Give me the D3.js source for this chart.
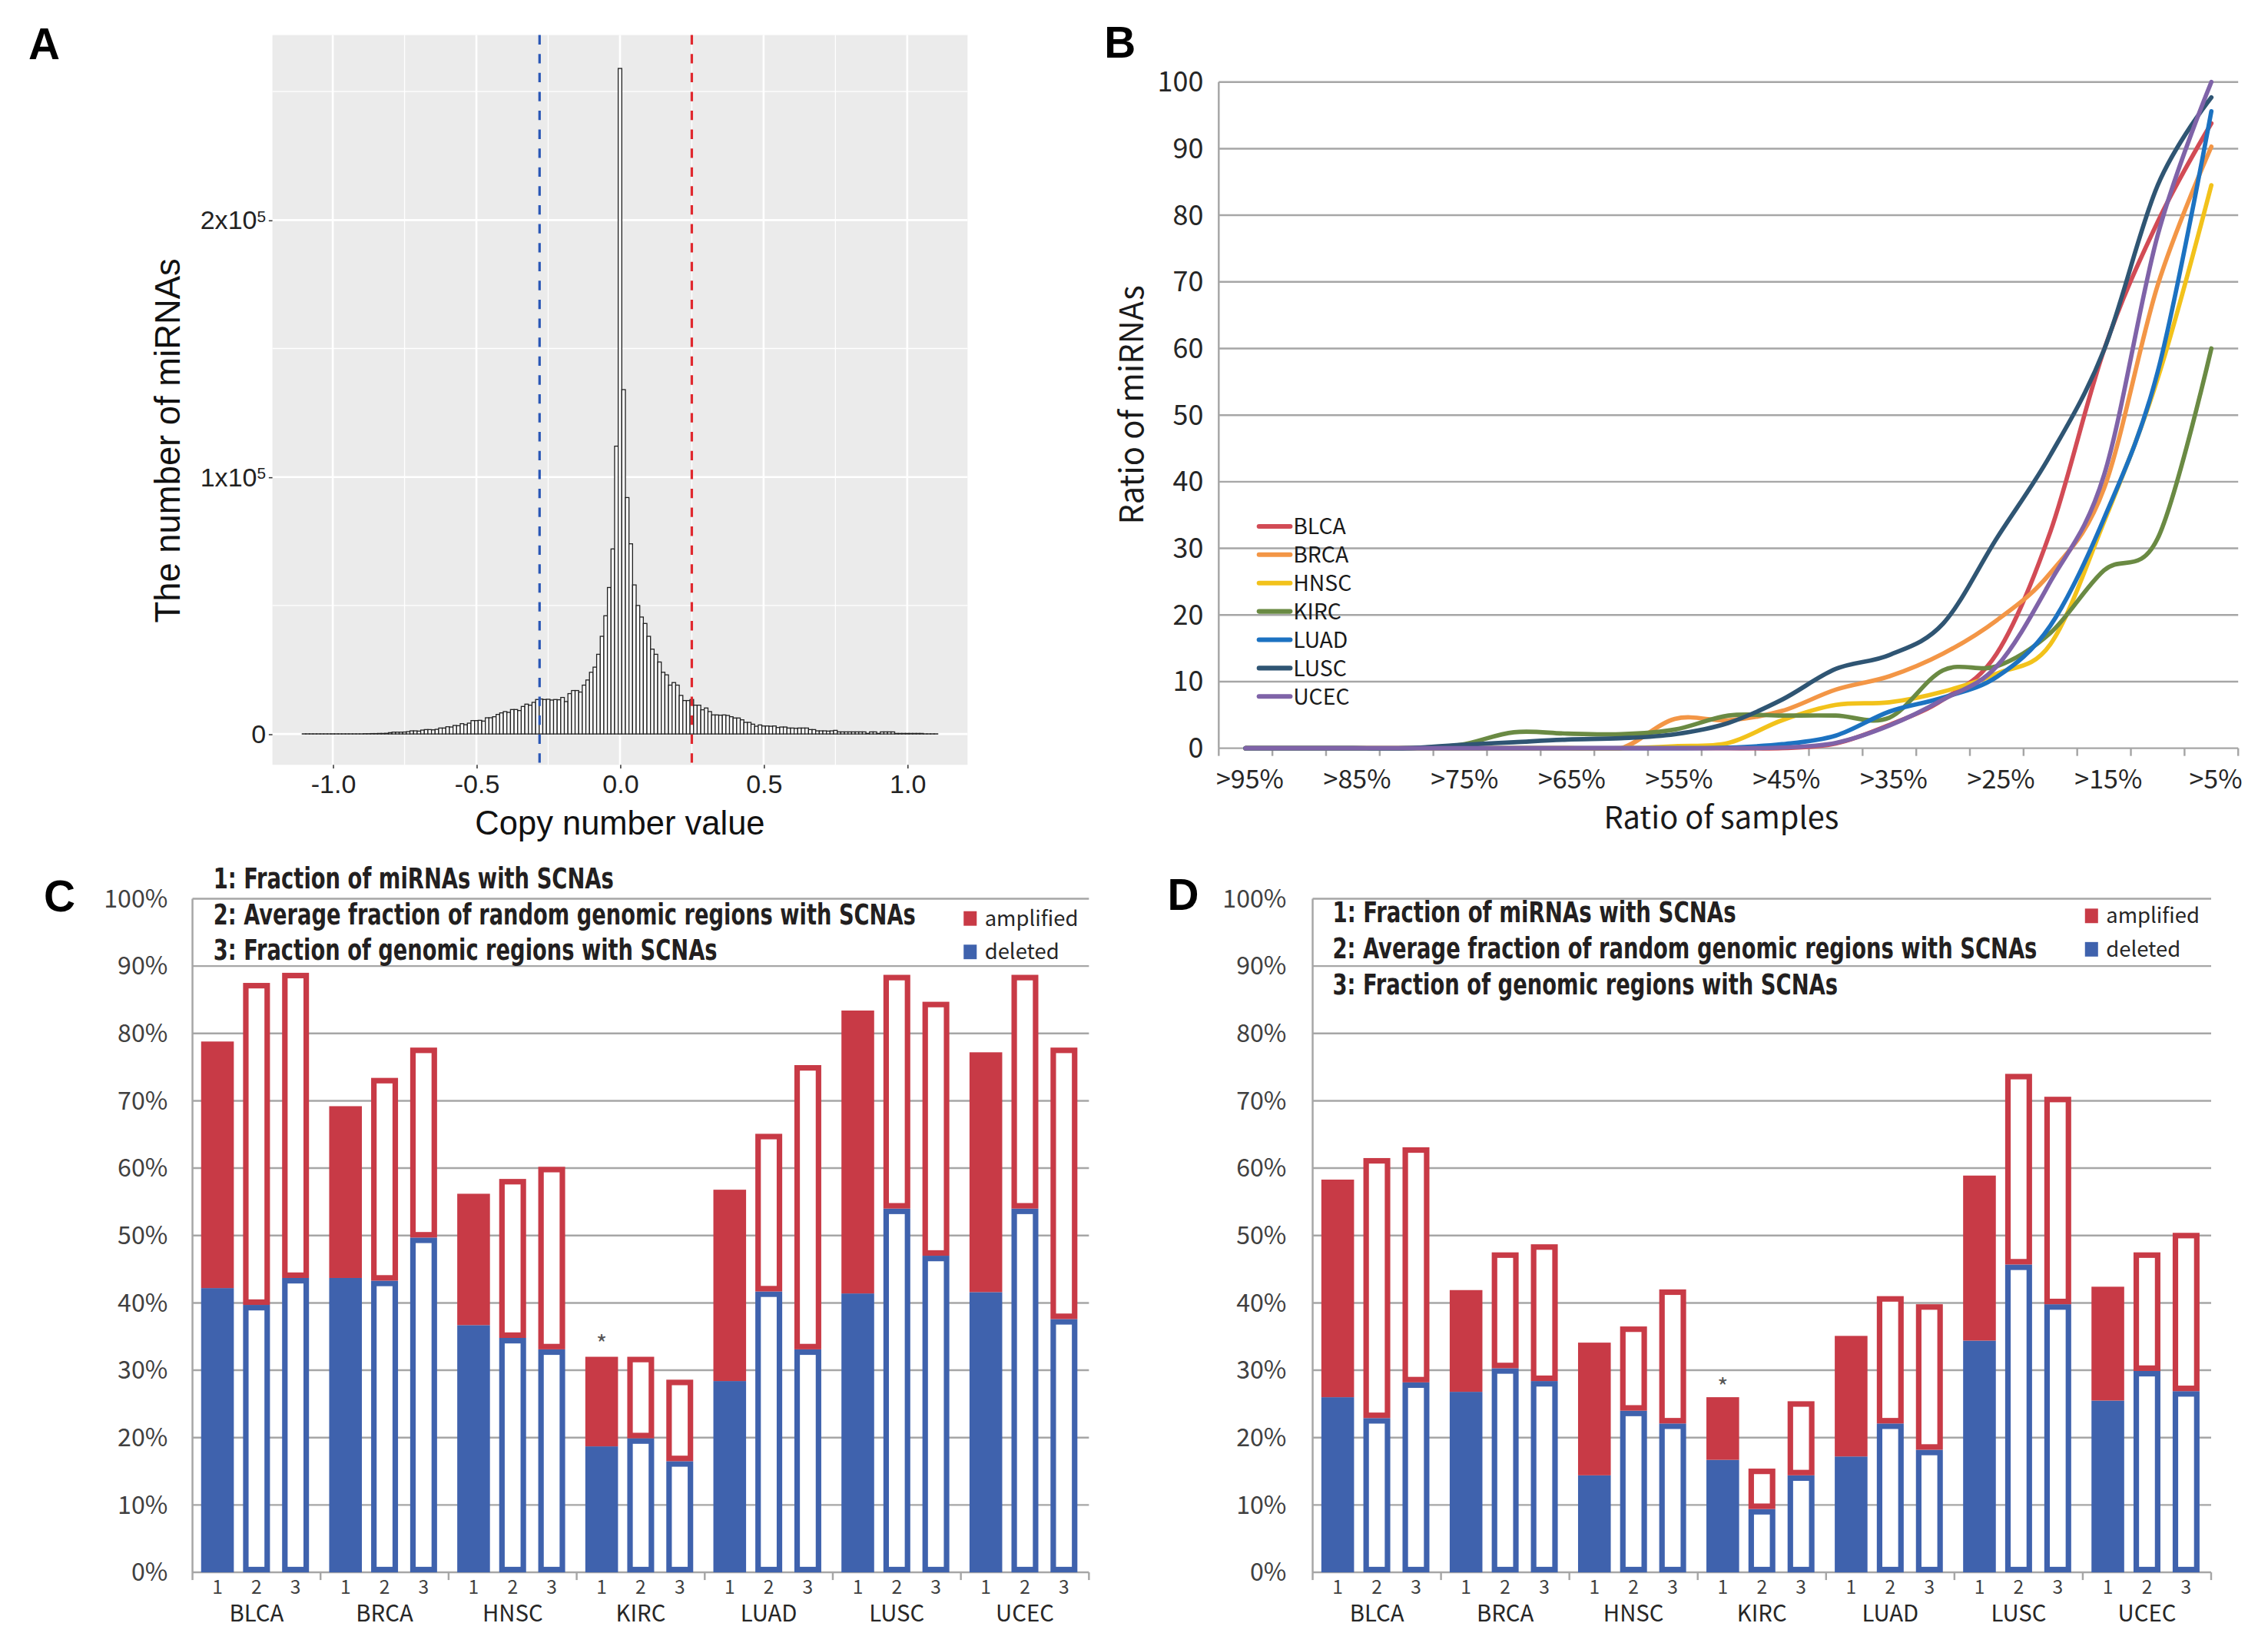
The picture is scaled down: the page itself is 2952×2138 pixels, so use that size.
<!DOCTYPE html>
<html>
<head>
<meta charset="utf-8">
<script src="https://cdn.jsdelivr.net/npm/d3@7"></script>
<style>
  html, body { margin: 0; padding: 0; background: #fff; }
</style>
</head>
<body>
<svg id="fig" width="2952" height="2138" viewBox="0 0 1560 1130"></svg>
<script>
// ---------- panel A: histogram of copy number values (counts in thousands) ----------
const binWidth = 0.0125;
const binFirst = -1.1; // centre of first bin
const histCounts = [
  0.05,0.05,0.05,0.05,0.05,0.05,0.05,0.05,0.05,0.05,0.05,0.05,0.05,0.05,0.05,0.05,0.05,
  0.1,0.1,0.15,0.15,0.2,
  0.2,0.25,0.5,0.7,0.7,0.7,0.75,0.9,1.2,1.2,1.1,1.5,1.7,1.7,1.6,1.8,2.3,2.3,2.8,2.7,3.3,3.2,4.0,3.6,4.2,5.2,
  5.2,5.3,5.0,6.3,6.3,6.7,7.6,8.2,8.7,8.4,9.5,9.5,9.1,10.7,11.6,11.2,12.3,13.4,13.6,13.4,13.5,13.2,13.4,13.3,14.2,12.6,15.7,16.9,16.9,16.3,
  19,21,24,26,31,38,46,57,72,112,
  259,
  134,92,74,58,50,45.5,43,38,33,31,28,24,23,19,20,19,15,13,13,
  13.4,11.2,11.2,9.4,10.1,8.7,7.4,7.4,7.3,7.4,7.2,
  6.7,6.2,6.2,5.5,4.5,4.5,3.8,3.0,3.5,3.1,3.1,3.0,3.1,
  2.5,2.7,2.7,2.3,2.3,2.2,2.3,2.3,2.3,1.7,1.7,
  1.2,1.2,1.2,1.1,1.2,1.4,
  0.8,0.8,0.8,0.8,0.8,0.8,0.8,0.8,
  0.2,0.8,0.8,0.2,
  0.8,0.8,0.8,0.8,
  0.2,0.2,0.2,0.2,0.2,0.2,0.2,0.2,
  0.05,0.05,0.05,0.05
];
const cutDeleted = -0.28;
const cutAmplified = 0.25;
const xTicksA = [-1.0, -0.5, 0.0, 0.5, 1.0];
const xMinorA = [-0.75, -0.25, 0.25, 0.75];
const yTicksA = [0, 100000, 200000];
const yMinorA = [50000, 150000, 250000];

// ---------- panel B: ratio of miRNAs vs ratio of samples ----------
const sampleCats = [">95%",">90%",">85%",">80%",">75%",">70%",">65%",">60%",">55%",">50%",
                    ">45%",">40%",">35%",">30%",">25%",">20%",">15%",">10%",">5%"];
const sampleLabels = [">95%",">85%",">75%",">65%",">55%",">45%",">35%",">25%",">15%",">5%"];
const yTicksB = [0,10,20,30,40,50,60,70,80,90,100];
const lineNames = ["BLCA","BRCA","HNSC","KIRC","LUAD","LUSC","UCEC"];
const blca = [0,0,0,0,0,0,0,0,0,0,0,0.7,3.5,7.3,14.2,32.5,59.8,79,93.8];
const brca = [0,0,0,0,0,0,0,0,4.4,4.2,5.6,8.8,10.8,14.2,19.2,26.3,39,69.5,90.3];
const hnsc = [0,0,0,0,0,0,0,0,0.3,0.8,4.2,6.5,6.9,8.5,11.2,15.6,34,55.5,84.5];
const kirc = [0,0,0,0,0.5,2.4,2.2,2.1,2.8,4.9,4.9,4.9,4.6,11.7,12.3,17.3,26.7,31.5,60];
const luad = [0,0,0,0,0,0,0,0,0,0.1,0.6,1.9,5.5,7.6,10.7,18.4,34.5,56.5,95.6];
const lusc = [0,0,0,0,0.5,0.9,1.3,1.5,2.1,3.8,7.3,11.9,14.0,18.7,31.5,44,59.8,84.5,97.7];
const ucec = [0,0,0,0,0,0,0,0,0,0,0.1,0.8,3.4,7.3,12.3,25,41,77,100];
const lineColors = ["#D24B55","#F39646","#F2C21B","#6A8A43","#1C72C1","#2F5573","#7F63A8"];

// ---------- panels C and D: fraction with SCNAs (rows = bar 1,2,3; columns = cancers) ----------
const cancers = ["BLCA","BRCA","HNSC","KIRC","LUAD","LUSC","UCEC"];
const barIds = ["1","2","3"];
const yTicksPct = [0,10,20,30,40,50,60,70,80,90,100];
const titleLines = [
  "1: Fraction of miRNAs with SCNAs",
  "2: Average fraction of random genomic regions with SCNAs",
  "3: Fraction of genomic regions with SCNAs"
];
const cDeleted = [
  [42.2, 43.7, 36.7, 18.7, 28.4, 41.4, 41.6],
  [39.7, 43.3, 34.8, 19.9, 41.7, 54.0, 54.0],
  [43.7, 49.7, 33.1, 16.5, 33.1, 47.0, 37.6]
];
const cAmplified = [
  [36.6, 25.5, 19.5, 13.3, 28.4, 42.0, 35.6],
  [47.8, 30.1, 23.6, 12.1, 23.4, 34.7, 34.7],
  [45.3, 28.2, 27.1, 12.1, 42.2, 37.7, 40.3]
];
const dDeleted = [
  [26.0, 26.8, 14.4, 16.7, 17.2, 34.4, 25.5],
  [22.9, 30.3, 24.0,  9.4, 22.1, 45.7, 29.9],
  [28.2, 28.4, 22.1, 14.4, 18.2, 39.8, 26.9]
];
const dAmplified = [
  [32.3, 15.1, 19.7,  9.3, 17.9, 24.5, 16.9],
  [38.6, 17.2, 12.5,  6.0, 18.9, 28.3, 17.6],
  [34.9, 20.3, 19.9, 11.0, 21.6, 30.8, 23.5]
];

const RED = "#C83A46";
const BLUE = "#3F62AD";
const GRID = "#A6A6A6";
const KR = "'Noto Sans CJK KR', 'Noto Sans', sans-serif";

const svg = d3.select("#fig");

// panel letters
[["A", 19.5, 40.5], ["B", 759.5, 39.5], ["C", 30, 627], ["D", 803, 626]].forEach(([t, x, y]) => {
  svg.append("text").attr("x", x).attr("y", y)
    .style("font-family", "'Liberation Sans', Arial, sans-serif")
    .style("font-weight", "bold").style("font-size", "30px").text(t);
});

// ================= Panel A =================
function panelA() {
  const box = { left: 187.3, right: 665.5, top: 24.1, bottom: 526 };
  const x = d3.scaleLinear().domain([-1.21, 1.21]).range([box.left, box.right]);
  const y = d3.scaleLinear().domain([-12000, 272000]).range([box.bottom, box.top]);
  const g = svg.append("g").style("font-family", "'Liberation Sans', Arial, sans-serif");

  g.append("rect").attr("x", box.left).attr("y", box.top)
    .attr("width", box.right - box.left).attr("height", box.bottom - box.top)
    .attr("fill", "#EBEBEB");

  // grid
  g.selectAll(".vminor").data(xMinorA).join("line")
    .attr("x1", d => x(d)).attr("x2", d => x(d)).attr("y1", box.top).attr("y2", box.bottom)
    .attr("stroke", "#fff").attr("stroke-width", 0.7);
  g.selectAll(".hminor").data(yMinorA).join("line")
    .attr("x1", box.left).attr("x2", box.right).attr("y1", d => y(d)).attr("y2", d => y(d))
    .attr("stroke", "#fff").attr("stroke-width", 0.7);
  g.selectAll(".vmajor").data(xTicksA).join("line")
    .attr("x1", d => x(d)).attr("x2", d => x(d)).attr("y1", box.top).attr("y2", box.bottom)
    .attr("stroke", "#fff").attr("stroke-width", 1.4);
  g.selectAll(".hmajor").data(yTicksA).join("line")
    .attr("x1", box.left).attr("x2", box.right).attr("y1", d => y(d)).attr("y2", d => y(d))
    .attr("stroke", "#fff").attr("stroke-width", 1.4);

  // histogram bars
  const bins = histCounts.map((c, i) => {
    const mid = binFirst + i * binWidth;
    return { x0: mid - binWidth / 2, x1: mid + binWidth / 2, n: c * 1000 };
  });
  g.append("g").selectAll("rect").data(bins).join("rect")
    .attr("x", d => x(d.x0)).attr("width", d => x(d.x1) - x(d.x0))
    .attr("y", d => y(d.n)).attr("height", d => y(0) - y(d.n))
    .attr("fill", "#fff").attr("stroke", "#222").attr("stroke-width", 0.7);

  // threshold lines
  [[cutDeleted, "#2A57B6"], [cutAmplified, "#E0282E"]].forEach(([v, c]) => {
    g.append("line").attr("x1", x(v)).attr("x2", x(v))
      .attr("y1", box.top).attr("y2", box.bottom)
      .attr("stroke", c).attr("stroke-width", 1.7).attr("stroke-dasharray", "6.5 6.5");
  });

  // axes
  const ax = g.append("g").attr("transform", `translate(0,${box.bottom})`)
    .call(d3.axisBottom(x).tickValues(xTicksA).tickSize(2.5).tickPadding(4)
      .tickFormat(d => d3.format(".1f")(d).replace("−", "-")));
  ax.select(".domain").remove();
  ax.selectAll(".tick line").attr("stroke", "#333").attr("stroke-width", 0.8);
  ax.selectAll("text").style("font-size", "18px").attr("fill", "#222")
    .style("font-family", "'Liberation Sans', Arial, sans-serif");

  const ay = g.append("g").attr("transform", `translate(${box.left},0)`)
    .call(d3.axisLeft(y).tickValues(yTicksA).tickSize(2.5).tickPadding(2));
  ay.select(".domain").remove();
  ay.selectAll(".tick line").attr("stroke", "#333").attr("stroke-width", 0.8);
  ay.selectAll("text").style("font-size", "18px").attr("fill", "#222")
    .style("font-family", "'Liberation Sans', Arial, sans-serif")
    .each(function (d) {
      const t = d3.select(this).text(null);
      if (d === 0) { t.text("0"); return; }
      t.append("tspan").text(`${d / 100000}x10`);
      t.append("tspan").attr("dy", "-0.45em").style("font-size", "11px").text("5");
    });

  g.append("text").attr("transform", `translate(123.5,${(box.top + box.bottom) / 2 + 28}) rotate(-90)`)
    .attr("text-anchor", "middle").style("font-size", "24px").attr("fill", "#111")
    .text("The number of miRNAs");
  g.append("text").attr("x", x(0)).attr("y", 574).attr("text-anchor", "middle")
    .style("font-size", "23px").attr("fill", "#111").text("Copy number value");
}

// ================= Panel B =================
function panelB() {
  const box = { left: 838.3, right: 1539.6, top: 56.4, bottom: 514.6 };
  const x = d3.scaleBand().domain(sampleCats).range([box.left, box.right]);
  const y = d3.scaleLinear().domain([0, 100]).range([box.bottom, box.top]);
  const g = svg.append("g").style("font-family", KR);

  svg.append("defs").append("clipPath").attr("id", "clipB").append("rect")
    .attr("x", box.left - 5).attr("y", box.top - 10)
    .attr("width", box.right - box.left + 10).attr("height", box.bottom - box.top + 11.6);

  g.selectAll(".grid").data(yTicksB).join("line")
    .attr("x1", box.left).attr("x2", box.right).attr("y1", d => y(d)).attr("y2", d => y(d))
    .attr("stroke", GRID).attr("stroke-width", 1.3);
  g.append("line").attr("x1", box.left).attr("x2", box.left)
    .attr("y1", box.top).attr("y2", box.bottom).attr("stroke", GRID).attr("stroke-width", 1.3);
  // category boundary ticks
  g.selectAll(".ctick").data(d3.range(sampleCats.length + 1)).join("line")
    .attr("x1", i => box.left + i * x.step()).attr("x2", i => box.left + i * x.step())
    .attr("y1", box.bottom).attr("y2", box.bottom + 5.3)
    .attr("stroke", GRID).attr("stroke-width", 1.3);

  const ay = g.append("g").attr("transform", `translate(${box.left},0)`)
    .call(d3.axisLeft(y).tickValues(yTicksB).tickSize(0).tickPadding(10.5));
  ay.select(".domain").remove();
  ay.selectAll("text").style("font-size", "19px").style("font-family", KR).attr("fill", "#262626");

  const ax = g.append("g").attr("transform", `translate(0,${box.bottom})`)
    .call(d3.axisBottom(x).tickValues(sampleLabels).tickSize(0).tickPadding(15));
  ax.select(".domain").remove();
  ax.selectAll("text").style("font-size", "18px").style("font-family", KR).attr("fill", "#262626")
    .attr("dx", "3");

  const series = [blca, brca, hnsc, kirc, luad, lusc, ucec];
  const line = d3.line()
    .x((d, i) => x(sampleCats[i]) + x.bandwidth() / 2)
    .y(d => y(d))
    .curve(d3.curveCatmullRom.alpha(0));
  g.append("g").attr("clip-path", "url(#clipB)")
    .selectAll("path").data(series).join("path")
    .attr("d", line).attr("fill", "none")
    .attr("stroke", (d, i) => lineColors[i]).attr("stroke-width", 3)
    .attr("stroke-linecap", "round").attr("stroke-linejoin", "round");

  // legend
  const lg = g.append("g");
  lineNames.forEach((n, i) => {
    const yy = 362 + i * 19.5;
    lg.append("line").attr("x1", 866).attr("x2", 887.5).attr("y1", yy).attr("y2", yy)
      .attr("stroke", lineColors[i]).attr("stroke-width", 3.2).attr("stroke-linecap", "round");
    lg.append("text").attr("x", 889.5).attr("y", yy).attr("dy", "0.36em")
      .style("font-size", "15px").attr("fill", "#1a1a1a").text(n);
  });

  g.append("text").attr("transform", `translate(786.5,${(box.top + box.bottom) / 2 - 7}) rotate(-90)`)
    .attr("text-anchor", "middle").style("font-size", "22px").attr("fill", "#1a1a1a")
    .text("Ratio of miRNAs");
  g.append("text").attr("x", 1184).attr("y", 570).attr("text-anchor", "middle")
    .style("font-size", "21px").attr("fill", "#1a1a1a").text("Ratio of samples");
}

// ================= Panels C and D =================
function panelSCNA(o) {
  const x = d3.scaleBand().domain(cancers).range([o.left, o.right]);
  const xi = d3.scaleBand().domain(barIds).range([0, x.bandwidth()]).paddingOuter(0.14);
  const y = d3.scaleLinear().domain([0, 100]).range([o.bottom, o.top]);
  const g = svg.append("g").style("font-family", KR);

  g.selectAll(".grid").data(yTicksPct).join("line")
    .attr("x1", o.left).attr("x2", o.right).attr("y1", d => y(d)).attr("y2", d => y(d))
    .attr("stroke", GRID).attr("stroke-width", 1.3);
  g.append("line").attr("x1", o.left).attr("x2", o.left)
    .attr("y1", o.top).attr("y2", o.bottom).attr("stroke", GRID).attr("stroke-width", 1.3);
  g.selectAll(".gtick").data(d3.range(cancers.length + 1)).join("line")
    .attr("x1", i => o.left + i * x.step()).attr("x2", i => o.left + i * x.step())
    .attr("y1", o.bottom).attr("y2", o.bottom + 5.3)
    .attr("stroke", GRID).attr("stroke-width", 1.3);

  const ay = g.append("g").attr("transform", `translate(${o.left},0)`)
    .call(d3.axisLeft(y).tickValues(yTicksPct).tickSize(0).tickPadding(o.labelPad)
      .tickFormat(d => d + "%"));
  ay.select(".domain").remove();
  ay.selectAll("text").style("font-size", "17px").style("font-family", KR).attr("fill", "#404040");

  // stacked bars
  const rows = [];
  cancers.forEach((c, j) => barIds.forEach((b, i) => {
    rows.push({ cancer: c, bar: b, deleted: o.del[i][j], amplified: o.amp[i][j] });
  }));
  const stacked = d3.stack().keys(["deleted", "amplified"])(rows);
  const solidW = 22.5, hollowW = 18.5, sw = 3.8;
  const cx = d => x(d.data.cancer) + xi(d.data.bar) + xi.bandwidth() / 2;
  stacked.forEach(s => {
    const col = s.key === "deleted" ? BLUE : RED;
    g.append("g").selectAll("rect").data(s).join("rect")
      .attr("x", d => d.data.bar === "1" ? cx(d) - solidW / 2 : cx(d) - hollowW / 2 + sw / 2)
      .attr("width", d => d.data.bar === "1" ? solidW : hollowW - sw)
      .attr("y", d => d.data.bar === "1" ? y(d[1]) : y(d[1]) + sw / 2)
      .attr("height", d => d.data.bar === "1" ? y(d[0]) - y(d[1]) : Math.max(0, y(d[0]) - y(d[1]) - sw))
      .attr("fill", d => d.data.bar === "1" ? col : "#fff")
      .attr("stroke", d => d.data.bar === "1" ? "none" : col)
      .attr("stroke-width", sw);
  });

  // asterisk over KIRC bar 1
  g.append("text").attr("x", x("KIRC") + xi("1") + xi.bandwidth() / 2).attr("y", o.starY)
    .attr("text-anchor", "middle").style("font-size", "16px").attr("fill", "#555").text("*");

  // x labels
  cancers.forEach(c => {
    barIds.forEach(b => {
      g.append("text").attr("x", x(c) + xi(b) + xi.bandwidth() / 2).attr("y", 1096)
        .attr("text-anchor", "middle").style("font-size", "13px").attr("fill", "#404040").text(b);
    });
    g.append("text").attr("x", x(c) + x.bandwidth() / 2).attr("y", 1115)
      .attr("text-anchor", "middle").style("font-size", "15.5px").attr("fill", "#262626").text(c);
  });

  // title block: condensed bold, squeezed horizontally to the measured width
  titleLines.forEach((t, i) => {
    const txt = g.append("text").attr("x", 0).attr("y", 0)
      .style("font-family", "'Liberation Sans Narrow', 'DejaVu Sans Condensed', 'Liberation Sans', sans-serif")
      .style("font-weight", "bold").style("font-size", "20px").attr("fill", "#231F20").text(t);
    const natural = txt.node().getComputedTextLength() || o.titleW[i];
    txt.attr("transform", `translate(${o.titleX},${o.titleY + i * 24.6}) scale(${o.titleW[i] / natural},1)`);
  });

  // legend
  [["amplified", RED, 0], ["deleted", BLUE, 1]].forEach(([t, c, i]) => {
    const yy = o.legY + i * 23 - 0.2;
    g.append("rect").attr("x", o.legX).attr("y", yy)
      .attr("width", 9).attr("height", 10).attr("fill", c);
    g.append("text").attr("x", o.legX + 14.5).attr("y", yy + 10)
      .style("font-size", "14.5px").attr("fill", "#262626").text(t);
  });
}

panelA();
panelB();
panelSCNA({
  left: 132.3, right: 749, top: 618.1, bottom: 1081.4, labelPad: 17,
  del: cDeleted, amp: cAmplified, starY: 930,
  titleX: 146.7, titleY: 611.1, titleW: [275.5, 483, 346.6],
  legX: 662.8, legY: 626.9
});
panelSCNA({
  left: 902.9, right: 1521, top: 618.1, bottom: 1081.4, labelPad: 18,
  del: dDeleted, amp: dAmplified, starY: 960,
  titleX: 916.6, titleY: 634.5, titleW: [277.6, 484.8, 347.7],
  legX: 1434.2, legY: 625.1
});
</script>
</body>
</html>
